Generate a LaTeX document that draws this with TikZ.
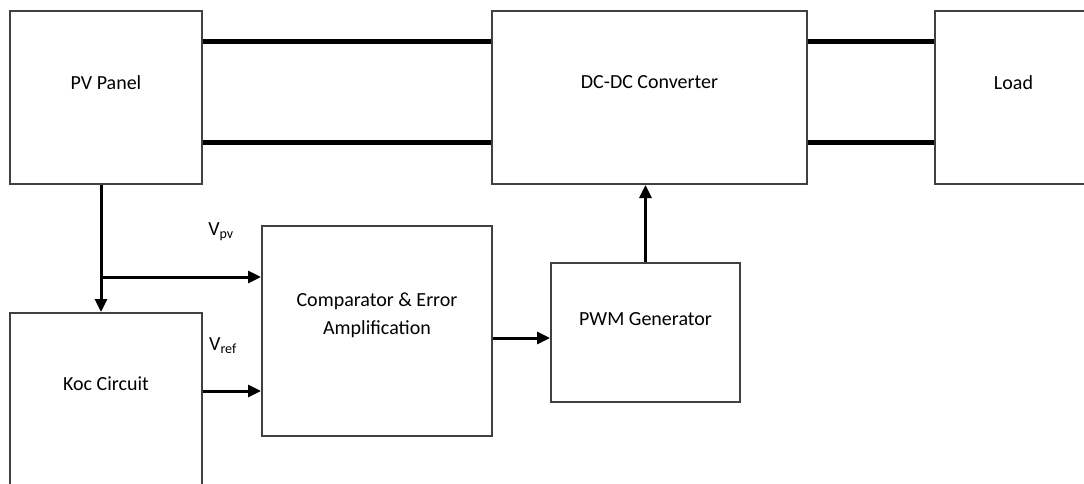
\documentclass[tikz,border=0pt]{standalone}
\usepackage{fontspec}
\setmainfont{Carlito}
\usetikzlibrary{arrows.meta}
\tikzset{
	blk/.style={draw=black!75, line width=2pt, inner sep=0pt, align=center,
		font=\fontsize{20}{28}\selectfont},
	bus/.style={line width=5pt},
	sig/.style={line width=3pt, -{Triangle[length=13pt,width=12pt]}},
	lbl/.style={font=\fontsize{20}{24}\selectfont},
}

\begin{document}
\begin{tikzpicture}[x=1pt,y=-1pt]
	\useasboundingbox (0,0) rectangle (1084,484);

	\node [blk, minimum width=192pt, minimum height=173pt, text depth=30pt] (pv) at (106,97.5) {PV Panel};
	\node [blk, minimum width=315pt, minimum height=173pt, text depth=30pt] (dc) at (649.5,97.5) {DC-DC Converter};
	\node [blk, minimum width=157pt, minimum height=173pt, text depth=30pt] (load) at (1013.5,97.5) {Load};
	\node [blk, minimum width=192pt, minimum height=179pt, text depth=37pt] (koc) at (106,402.5) {Koc Circuit};
	\node [blk, minimum width=230pt, minimum height=210pt, text depth=34pt] (cmp) at (377,331) {Comparator \& Error\\Amplification};
	\node [blk, minimum width=189pt, minimum height=139pt, text depth=26pt] (pwm) at (645.5,332.5) {PWM Generator};

	\coordinate (busA) at (0,42);
	\coordinate (busB) at (0,143);
	\coordinate (tap) at (101,277);
	\coordinate (vref) at (0,391);
	\coordinate (err) at (0,338);

	\draw [bus] (pv.east |- busA) -- (dc.west |- busA);
	\draw [bus] (pv.east |- busB) -- (dc.west |- busB);
	\draw [bus] (dc.east |- busA) -- (load.west |- busA);
	\draw [bus] (dc.east |- busB) -- (load.west |- busB);

	\draw [sig] (pv.south -| tap) -- (koc.north -| tap);
	\draw [sig] (tap) -- (cmp.west |- tap);
	\draw [sig] (koc.east |- vref) -- (cmp.west |- vref);
	\draw [sig] (cmp.east |- err) -- (pwm.west |- err);
	\draw [sig] (pwm.north) -- (pwm.north |- dc.south);

	\node [lbl] (vpv) at (221,232) {V\textsubscript{pv}};
	\node [lbl] (vrf) at (223,346) {V\textsubscript{ref}};
\end{tikzpicture}
\end{document}
